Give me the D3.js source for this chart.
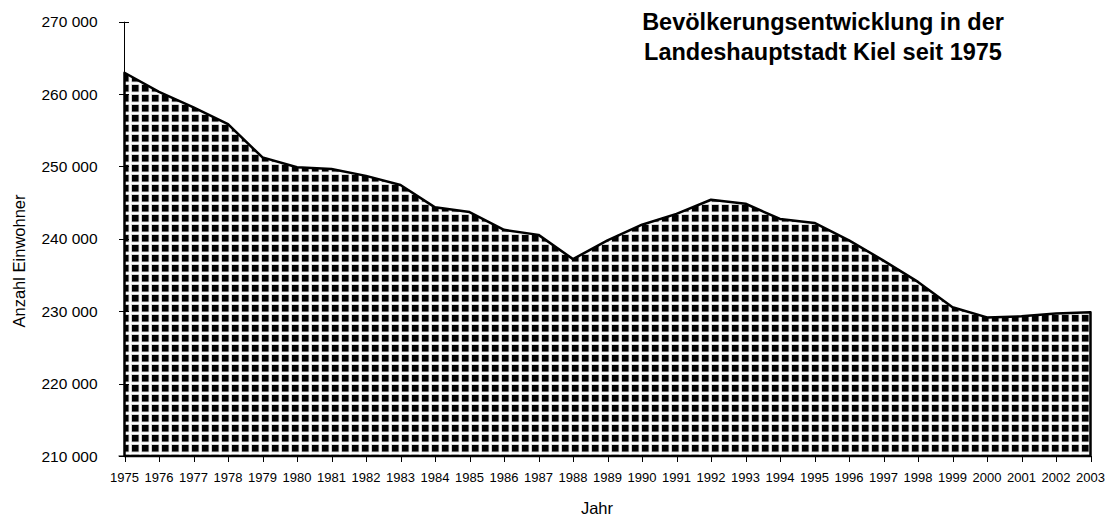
<!DOCTYPE html>
<html>
<head>
<meta charset="utf-8">
<script src="https://cdn.jsdelivr.net/npm/d3@7"></script>
<style>
  body { margin: 0; background: #fff; }
  text { font-family: "Liberation Sans", Arial, sans-serif; fill: #000; }
</style>
</head>
<body>
<svg id="chart" width="1109" height="517"></svg>
<script>
const years = [1975, 1976, 1977, 1978, 1979, 1980, 1981, 1982, 1983, 1984,
               1985, 1986, 1987, 1988, 1989, 1990, 1991, 1992, 1993, 1994,
               1995, 1996, 1997, 1998, 1999, 2000, 2001, 2002, 2003];
const einwohner = [262950, 260300, 258150, 255850, 251250, 249900, 249650, 248700, 247450, 244350,
                   243700, 241250, 240550, 237200, 239800, 241950, 243450, 245400, 244850, 242750,
                   242200, 239800, 237000, 234050, 230550, 229150, 229300, 229700, 229850];
const yTicks = [210000, 220000, 230000, 240000, 250000, 260000, 270000];
const titleLines = ["Bevölkerungsentwicklung in der", "Landeshauptstadt Kiel seit 1975"];

const svg = d3.select("#chart");

const x = d3.scalePoint().domain(years).range([124.5, 1090.5]);
const y = d3.scaleLinear().domain([210000, 270000]).range([456, 21.7]);

// thousands with a space, like "260 000"
const fmt = d => d3.format(",")(d).replace(/,/g, " ");

// checkered fill: black squares with soft white lines
const pat = svg.append("defs").append("pattern")
    .attr("id", "grid")
    .attr("patternUnits", "userSpaceOnUse")
    .attr("x", 2).attr("y", 5)
    .attr("width", 10).attr("height", 10);
pat.append("rect").attr("width", 10).attr("height", 10).attr("fill", "#000");
pat.append("rect").attr("x", 6.5).attr("width", 3.5).attr("height", 10).attr("fill", "#c4c4c4");
pat.append("rect").attr("y", 6.5).attr("width", 10).attr("height", 3.5).attr("fill", "#c4c4c4");
pat.append("rect").attr("x", 7.3).attr("width", 2).attr("height", 10).attr("fill", "#fff");
pat.append("rect").attr("y", 7.3).attr("width", 10).attr("height", 2).attr("fill", "#fff");

const area = d3.area()
    .x((d, i) => x(years[i]))
    .y0(y(210000))
    .y1(d => y(d));

svg.append("path")
    .datum(einwohner)
    .attr("d", area)
    .attr("fill", "url(#grid)")
    .attr("stroke", "#000")
    .attr("stroke-width", 2.5)
    .attr("stroke-linejoin", "round");

// y axis
const yAxis = svg.append("g").attr("transform", "translate(124.5,0)");
yAxis.append("line")
    .attr("y1", y(270000)).attr("y2", y(210000))
    .attr("stroke", "#000");
yAxis.selectAll(".tick")
    .data(yTicks)
    .enter().append("line")
    .attr("x1", -5.5).attr("x2", 4.5)
    .attr("y1", d => Math.round(y(d)) + 0.5)
    .attr("y2", d => Math.round(y(d)) + 0.5)
    .attr("stroke", "#000");
yAxis.selectAll("text")
    .data(yTicks)
    .enter().append("text")
    .attr("x", -27)
    .attr("y", d => y(d))
    .attr("dy", "0.36em")
    .attr("text-anchor", "end")
    .attr("font-size", "15.5px")
    .text(fmt);

// x axis
const xAxis = svg.append("g").attr("transform", "translate(0," + y(210000) + ")");
xAxis.append("line")
    .attr("x1", x(1975) - 6).attr("x2", x(2003))
    .attr("stroke", "#000").attr("stroke-width", 1);
xAxis.selectAll(".tick")
    .data(years)
    .enter().append("line")
    .attr("x1", d => Math.round(x(d)) + 0.5)
    .attr("x2", d => Math.round(x(d)) + 0.5)
    .attr("y1", 0).attr("y2", 6)
    .attr("stroke", "#000");
xAxis.selectAll("text")
    .data(years)
    .enter().append("text")
    .attr("x", d => x(d))
    .attr("y", 26)
    .attr("text-anchor", "middle")
    .attr("font-size", "13px")
    .text(d => d);

// axis titles
svg.append("text")
    .attr("transform", "translate(25," + 261 + ") rotate(-90)")
    .attr("text-anchor", "middle")
    .attr("font-size", "16.5px")
    .text("Anzahl Einwohner");

svg.append("text")
    .attr("x", 597)
    .attr("y", 514)
    .attr("text-anchor", "middle")
    .attr("font-size", "16.5px")
    .text("Jahr");

// title
svg.append("g").selectAll("text")
    .data(titleLines)
    .enter().append("text")
    .attr("x", 823)
    .attr("y", (d, i) => 30 + i * 30)
    .attr("text-anchor", "middle")
    .attr("font-size", "23.5px")
    .attr("font-weight", "bold")
    .text(d => d);
</script>
</body>
</html>
